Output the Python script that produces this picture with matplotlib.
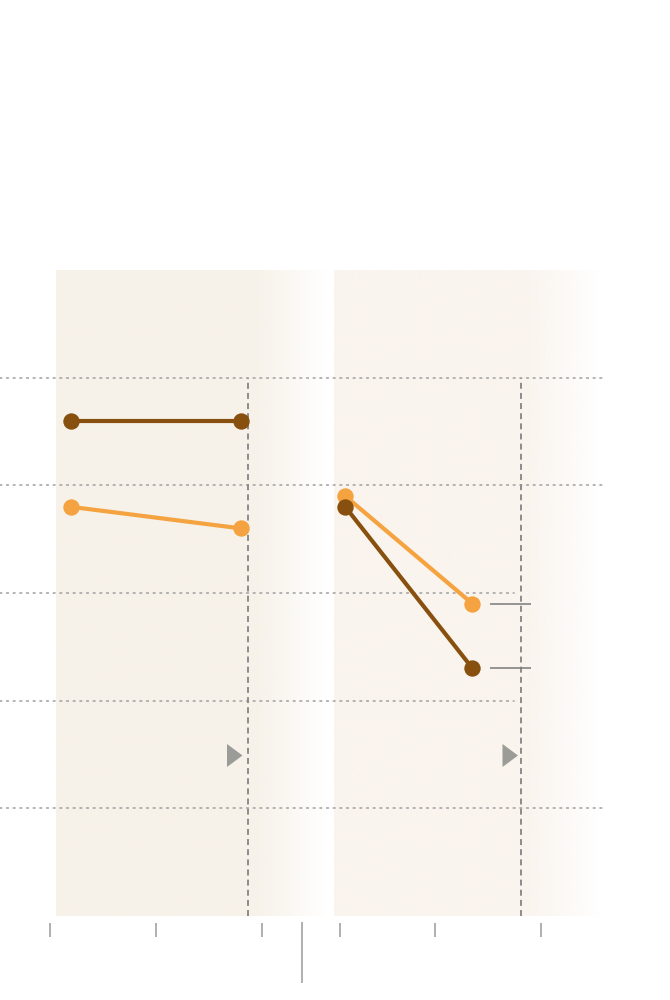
import numpy as np
import matplotlib
matplotlib.use("Agg")
import matplotlib.pyplot as plt
from matplotlib.patches import Polygon

# ---------------- data ----------------
left_x = [2002, 2018]
left_dark = [46, 46]
left_orange = [38, 36]

right_x = [2000.5, 2012.5]
right_orange = [39, 29]
right_dark = [38, 23]

left_ticks = [2000, 2010, 2020]
right_ticks = [2000, 2009, 2019]
grid_values = [10, 20, 30, 40, 50]
left_ref_x = 2018.7
right_ref_x = 2017.1

# ---------------- styles ----------------
DARK = "#87500f"
ORANGE = "#f4a340"
GRID = "#a6a6a6"
REF = "#8c8c8c"
TICK = "#9a9a9a"
W, H = 670, 1000
TOP, BOT = 270, 916
PXU = 10.6  # pixels per x unit

fig = plt.figure(figsize=(6.7, 10), dpi=100)
fig.patch.set_facecolor("white")


def fbox(x0, y0, x1, y1):
    return [x0 / W, 1 - y1 / H, (x1 - x0) / W, (y1 - y0) / H]


# decoration axes in pixel coords
deco = fig.add_axes([0, 0, 1, 1], zorder=0)
deco.axis("off")


def panel(x0, x1, xfade, color):
    n = 400
    xs = np.linspace(x0, x1, n)
    alpha = np.where(xs < xfade, 1.0, np.clip(1 - (xs - xfade) / (x1 - xfade), 0, 1))
    arr = np.zeros((1, n, 4))
    arr[..., 0] = color[0] / 255
    arr[..., 1] = color[1] / 255
    arr[..., 2] = color[2] / 255
    arr[..., 3] = alpha
    deco.imshow(arr, extent=(x0, x1, BOT, TOP), aspect="auto", interpolation="bilinear")


panel(56, 328, 256, (247, 242, 233))
panel(334, 602, 526, (250, 244, 238))

# triangles
for tx in (227, 502.5):
    deco.add_patch(Polygon([(tx, 744), (tx, 767), (tx + 15.5, 755.5)], closed=True,
                           facecolor="#9b9b98", edgecolor="none"))
# long divider tick
deco.plot([301.5, 301.5], [922, 983], color=TICK, lw=1.1, solid_capstyle="butt")
deco.set_xlim(0, W)
deco.set_ylim(H, 0)

# grid axes
axg = fig.add_axes(fbox(0, TOP, W, BOT), zorder=1)
axg.patch.set_alpha(0)
axg.axis("off")
axg.set_xlim(0, W)
axg.set_ylim(0, 60)
grid_ends = {10: 605, 20: 514, 30: 514, 40: 605, 50: 605}
for gv in grid_values:
    axg.plot([0, grid_ends[gv]], [gv, gv], color=GRID, lw=1.2,
             linestyle=(0, (1, 3.0)), dash_capstyle="round")


def setup(ax, ticks):
    ax.patch.set_alpha(0)
    ax.set_ylim(0, 60)
    for s in ax.spines.values():
        s.set_visible(False)
    ax.spines["bottom"].set_position(("outward", 6.5 * 72 / 100))
    ax.set_yticks([])
    ax.set_xticks(ticks)
    ax.tick_params(axis="x", direction="out", length=10, width=1.1, color=TICK,
                   labelbottom=False)


ax1 = fig.add_axes(fbox(0, TOP, 300, BOT), zorder=2)
setup(ax1, left_ticks)
x0 = left_ticks[0] - 50 / PXU
ax1.set_xlim(x0, x0 + 300 / PXU)

ax2 = fig.add_axes(fbox(300, TOP, W, BOT), zorder=2)
setup(ax2, right_ticks)
x0r = right_ticks[0] - 40 / PXU
ax2.set_xlim(x0r, x0r + (W - 300) / PXU)

dash = (0, (4.3 / 1.4, 3.0 / 1.4))
ax1.plot([left_ref_x, left_ref_x], [0, 50], color=REF, lw=1.4, linestyle=dash, zorder=1)
ax2.plot([right_ref_x, right_ref_x], [0, 50], color=REF, lw=1.4, linestyle=dash, zorder=1)

# leader lines at right ends
lead_x0 = right_x[1] + (490 - 472.5) / PXU
lead_x1 = right_x[1] + (531 - 472.5) / PXU
ax2.hlines([right_orange[-1], right_dark[-1]], lead_x0, lead_x1, color="#7a7a7a", lw=1.1, zorder=2)

kw = dict(lw=3.0, marker="o", ms=11.8, markeredgewidth=0, solid_capstyle="butt", zorder=3)
ax1.plot(left_x, left_orange, color=ORANGE, **kw)
ax1.plot(left_x, left_dark, color=DARK, **kw)
ax2.plot(right_x, right_orange, color=ORANGE, **kw)
ax2.plot(right_x, right_dark, color=DARK, **kw)

fig.savefig("out.png", dpi=100, facecolor="white")
